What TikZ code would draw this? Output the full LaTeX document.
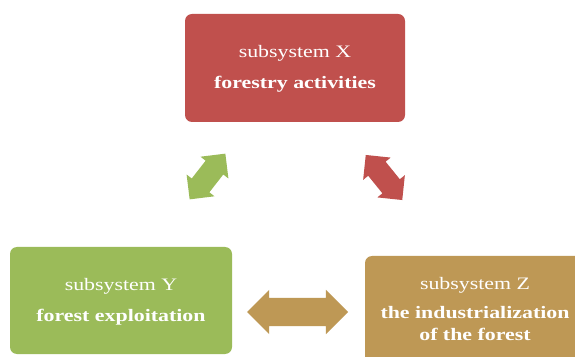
\documentclass[tikz,border=0pt]{standalone}
\usepackage{fontspec}
\setmainfont{Liberation Serif}[FakeStretch=1.25]
\usetikzlibrary{shapes.arrows}
\definecolor{cx}{RGB}{192,80,77}
\definecolor{cy}{RGB}{155,187,89}
\definecolor{cz}{RGB}{190,152,85}
\begin{document}
\begin{tikzpicture}[x=1pt,y=1pt,
  box/.style={rounded corners=7pt, inner sep=0pt, text=white, align=center,
    minimum width=220pt, minimum height=108pt,
    font=\fontsize{17.5}{22}\selectfont},
  dbl/.style={double arrow, inner xsep=0pt, draw=none, minimum width=0pt}]
\clip (0,0) rectangle (575,356);
\fill[white] (0,0) rectangle (575,356);
\node[box, fill=cx] (bx) at (295,288) {\mbox{}\\[-8pt]subsystem X\\[9pt]\textbf{forestry activities}};
\node[box, fill=cy, minimum width=222pt, minimum height=107pt] (by) at (121,55.5) {\mbox{}\\[-8pt]subsystem Y\\[9pt]\textbf{forest exploitation}};
\node[box, fill=cz, minimum height=107pt] (bz) at (475,46.5) {subsystem Z\\[7pt]\textbf{the industrialization}\\\textbf{of the forest}};
\node[dbl, fill=cy, minimum height=58pt, inner ysep=11pt, double arrow head extend=6.5pt, rotate=52] (axy) at (207.5,179.5) {};
\node[dbl, fill=cx, minimum height=58pt, inner ysep=11pt, double arrow head extend=6.5pt, rotate=-51] (axz) at (384,178.5) {};
\node[dbl, fill=cz, minimum height=101pt, inner ysep=14pt, double arrow head extend=8pt] (ayz) at (297.5,44) {};
\end{tikzpicture}
\end{document}
